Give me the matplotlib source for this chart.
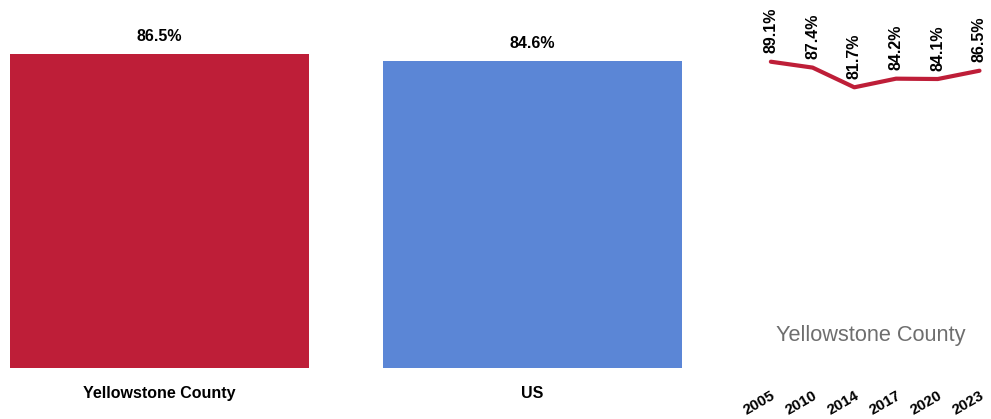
import matplotlib
matplotlib.use("Agg")
import matplotlib.pyplot as plt

plt.rcParams['font.family'] = ['Liberation Sans', 'DejaVu Sans']

bar_categories = ["Yellowstone County", "US"]
bar_values = [86.5, 84.6]
bar_colors = ["#BE1E38", "#5B86D6"]

years = ["2005", "2010", "2014", "2017", "2020", "2023"]
trend_values = [89.1, 87.4, 81.7, 84.2, 84.1, 86.5]
trend_label = "Yellowstone County"

W, H = 991, 419
fig = plt.figure(figsize=(W / 100, H / 100), dpi=100)

# left bar chart
ax = fig.add_axes([10 / W, 1 - 368 / H, 672 / W, (368 - 5) / H])
x = list(range(len(bar_categories)))
ax.bar(x, bar_values, width=0.8, color=bar_colors)
ax.set_xlim(-0.4, 1.4)
ax.set_ylim(0, 100)
for xi, v in zip(x, bar_values):
    ax.annotate(f"{v}%", (xi, v), xytext=(0, 7), textcoords="offset points",
                ha="center", va="bottom", fontsize=11.5, fontweight="bold")
ax.set_xticks(x)
ax.set_xticklabels(bar_categories, fontsize=11.5, fontweight="bold")
ax.tick_params(axis="x", length=0, pad=13)
ax.set_yticks([])
for s in ax.spines.values():
    s.set_visible(False)

# right trend line
ax2 = fig.add_axes([750 / W, 1 - 370 / H, (992 - 750) / W, (370 - 24) / H])
xt = list(range(len(years)))
ax2.plot(xt, trend_values, color="#BE1E38", linewidth=3, solid_capstyle="round")
ax2.set_xlim(-0.5, 5.3)
ax2.set_ylim(0, 100)
for xi, v in zip(xt, trend_values):
    ax2.annotate(f"{v}%", (xi, v), xytext=(0, 6), textcoords="offset points",
                 ha="center", va="bottom", rotation=90, fontsize=11.5, fontweight="bold")
ax2.set_xticks(xt)
ax2.set_xticklabels(years, fontsize=11, fontweight="bold", rotation=30,
                    ha="right", rotation_mode="anchor")
ax2.tick_params(axis="x", length=0, pad=13)
ax2.set_yticks([])
for s in ax2.spines.values():
    s.set_visible(False)
fig.text(871 / W, 1 - 335 / H, trend_label, ha="center", va="center",
         fontsize=15.7, color="#6E6E6E")

fig.savefig("out.png", dpi=100)
